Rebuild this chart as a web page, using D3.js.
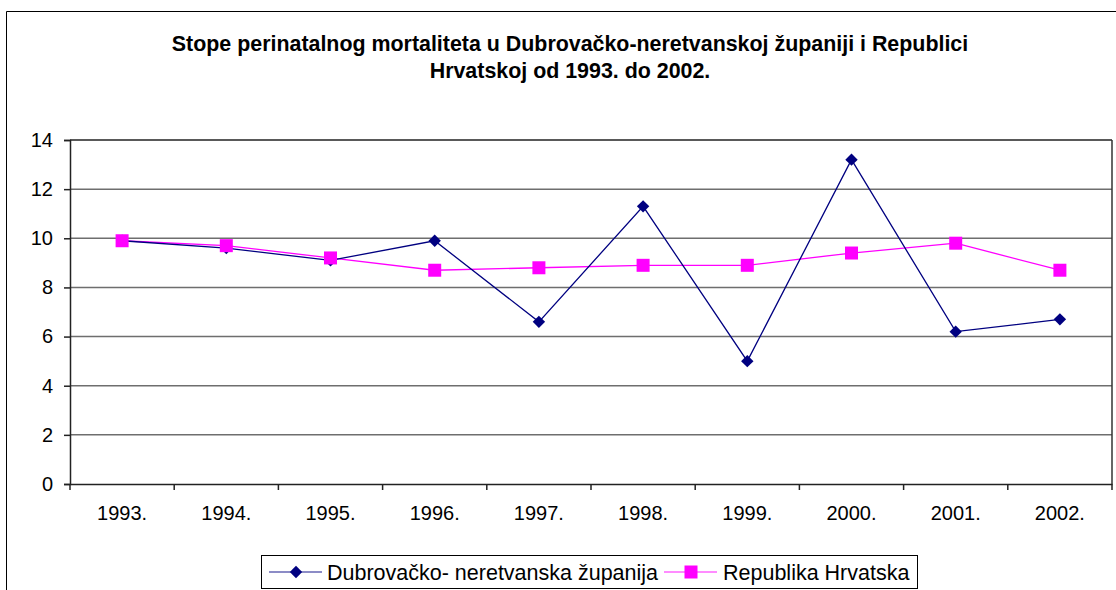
<!DOCTYPE html>
<html>
<head>
<meta charset="utf-8">
<script src="https://cdn.jsdelivr.net/npm/d3@7"></script>
<style>
  body { margin: 0; background: #fff; }
  svg { display: block; font-family: Arial, "Liberation Sans", sans-serif; }
</style>
</head>
<body>
<svg id="chart" width="1116" height="590"></svg>
<script>
// Data
const years = ['1993.', '1994.', '1995.', '1996.', '1997.', '1998.', '1999.', '2000.', '2001.', '2002.'];
const dubrovnik = [9.9, 9.6, 9.1, 9.9, 6.6, 11.3, 5.0, 13.2, 6.2, 6.7];
const hrvatska = [9.9, 9.7, 9.2, 8.7, 8.8, 8.9, 8.9, 9.4, 9.8, 8.7];
const yTicks = [0, 2, 4, 6, 8, 10, 12, 14];
const titleLines = ['Stope perinatalnog mortaliteta u Dubrovačko-neretvanskoj županiji i Republici', 'Hrvatskoj od 1993. do 2002.'];
const seriesNames = ['Dubrovačko- neretvanska županija', 'Republika Hrvatska'];

const plot = { left: 70, right: 1112, top: 140, bottom: 484 };
const FONT = 'Arial, "Liberation Sans", sans-serif';

const svg = d3.select('#chart');

// outer chart frame (open on right and bottom)
svg.append('path')
  .attr('d', `M6.5,600 V11.5 H1130`)
  .attr('fill', 'none')
  .attr('stroke', '#000')
  .attr('stroke-width', 1);

// title
svg.append('g')
  .selectAll('text')
  .data(titleLines)
  .enter()
  .append('text')
  .attr('x', 570)
  .attr('y', (d, i) => 51 + i * 27)
  .attr('text-anchor', 'middle')
  .attr('font-size', 21.4)
  .attr('font-weight', 'bold')
  .text(d => d);

// scales
const x = d3.scaleBand().domain(years).range([plot.left, plot.right]);
const y = d3.scaleLinear().domain([0, 14]).range([plot.bottom, plot.top]);

// gridlines
svg.append('g')
  .selectAll('line')
  .data(yTicks.filter(t => t > 0))
  .enter()
  .append('line')
  .attr('x1', plot.left)
  .attr('x2', plot.right)
  .attr('y1', d => y(d))
  .attr('y2', d => y(d))
  .attr('stroke', d => d === 14 ? '#222' : '#6e6e6e')
  .attr('stroke-width', 1.5);

// right border
svg.append('line')
  .attr('x1', plot.right).attr('x2', plot.right)
  .attr('y1', plot.top).attr('y2', plot.bottom)
  .attr('stroke', '#333').attr('stroke-width', 1.5);

// y axis
const yAxis = svg.append('g')
  .attr('transform', `translate(${plot.left},0)`)
  .call(d3.axisLeft(y).tickValues(yTicks).tickSize(6).tickPadding(11));
yAxis.selectAll('text').attr('font-size', 20).attr('fill', '#000').attr('font-family', FONT);
yAxis.select('.domain').attr('stroke', '#222').attr('stroke-width', 1.5);
yAxis.selectAll('.tick line').attr('stroke', '#222').attr('stroke-width', 1.5);

// x axis: ticks at category boundaries
const xAxis = svg.append('g')
  .attr('transform', `translate(0,${plot.bottom})`)
  .call(d3.axisBottom(x).tickSize(0).tickPadding(22));
xAxis.selectAll('text').attr('font-size', 20).attr('fill', '#000').attr('font-family', FONT);
xAxis.select('.domain').attr('stroke', '#222').attr('stroke-width', 1.5);
xAxis.append('g')
  .selectAll('line')
  .data(years.map(d => x(d)).concat([plot.right]))
  .enter()
  .append('line')
  .attr('x1', d => d).attr('x2', d => d)
  .attr('y1', 0).attr('y2', 6)
  .attr('stroke', '#222').attr('stroke-width', 1.5);

const cx = (d, i) => x(years[i]) + x.bandwidth() / 2;

const line = d3.line().x((d, i) => cx(d, i)).y(d => y(d));

const diamond = d3.symbol().type(d3.symbolDiamond2).size(98);
const square = d3.symbol().type(d3.symbolSquare).size(169);

// Republika Hrvatska
svg.append('path')
  .datum(hrvatska)
  .attr('d', line)
  .attr('fill', 'none')
  .attr('stroke', '#ff00ff')
  .attr('stroke-width', 1.3);

// Dubrovnik
svg.append('path')
  .datum(dubrovnik)
  .attr('d', line)
  .attr('fill', 'none')
  .attr('stroke', '#000080')
  .attr('stroke-width', 1.3);

svg.append('g')
  .selectAll('path')
  .data(dubrovnik)
  .enter()
  .append('path')
  .attr('d', diamond)
  .attr('transform', (d, i) => `translate(${cx(d, i)},${y(d)})`)
  .attr('fill', '#000080');

svg.append('g')
  .selectAll('path')
  .data(hrvatska)
  .enter()
  .append('path')
  .attr('d', square)
  .attr('transform', (d, i) => `translate(${cx(d, i)},${y(d)})`)
  .attr('fill', '#ff00ff');

// legend
const legend = svg.append('g');
legend.append('rect')
  .attr('x', 261.5).attr('y', 555.5)
  .attr('width', 656).attr('height', 33)
  .attr('fill', '#fff').attr('stroke', '#000');

const legendItems = [
  { name: seriesNames[0], color: '#6666b3', mark: '#000080', sym: diamond, lx: 269, tx: 327 },
  { name: seriesNames[1], color: '#ff66ff', mark: '#ff00ff', sym: square, lx: 664, tx: 723 }
];
const li = legend.selectAll('.item')
  .data(legendItems)
  .enter()
  .append('g')
  .attr('class', 'item');
li.append('line')
  .attr('x1', d => d.lx).attr('x2', d => d.lx + 53)
  .attr('y1', 572).attr('y2', 572)
  .attr('stroke', d => d.color).attr('stroke-width', 1.5);
li.append('path')
  .attr('d', d => d.sym())
  .attr('transform', d => `translate(${d.lx + 27},572)`)
  .attr('fill', d => d.mark);
li.append('text')
  .attr('x', d => d.tx)
  .attr('y', 579.5)
  .attr('font-size', 21.5)
  .text(d => d.name);
</script>
</body>
</html>
